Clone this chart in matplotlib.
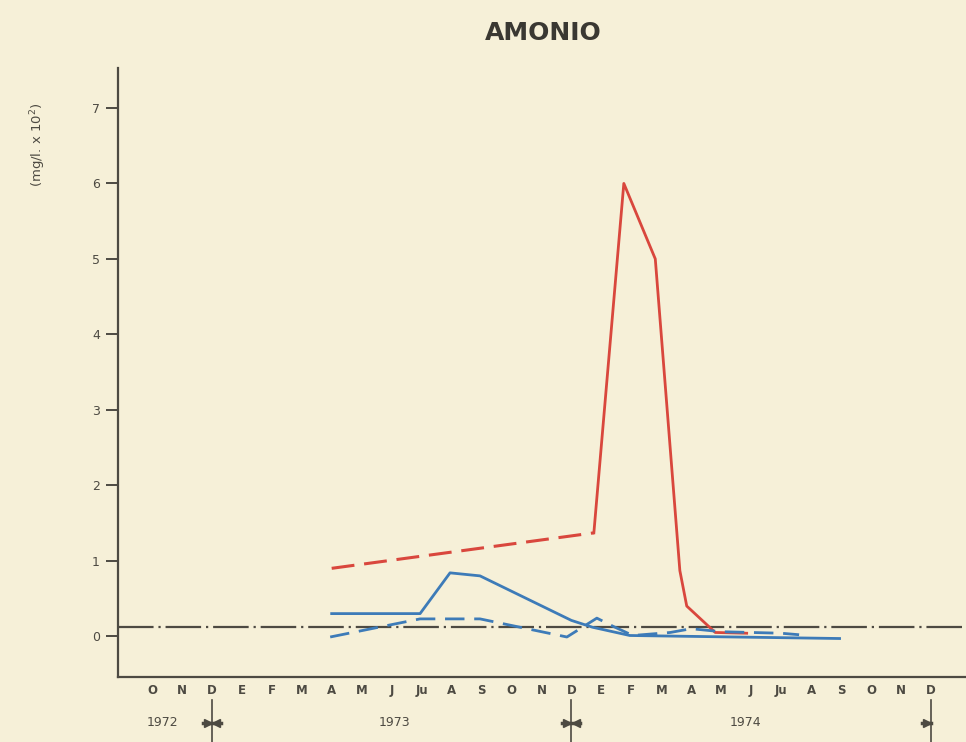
import numpy as np
import matplotlib.pyplot as plt
from matplotlib.transforms import blended_transform_factory

# month labels, Oct 1972 .. Dec 1974 (index 0 = O 1972)
months = ["O", "N", "D", "E", "F", "M", "A", "M", "J", "Ju", "A", "S",
          "O", "N", "D", "E", "F", "M", "A", "M", "J", "Ju", "A", "S",
          "O", "N", "D"]
years = ["1972", "1973", "1974"]
year_pos = [0.35, 8.1, 19.8]
year_breaks = [2, 14]
year_end = 26

# red series (dashed part, then solid)
red_dash_x = [6.0, 14.75]
red_dash_y = [0.90, 1.37]
red_x = [14.75, 15.75, 16.8, 17.62, 17.85, 18.8, 19.85]
red_y = [1.37, 6.0, 5.0, 0.87, 0.40, 0.05, 0.04]

# blue solid
blue_x = [6.0, 8.95, 9.95, 10.95, 14.0, 14.7, 15.95, 22.95]
blue_y = [0.30, 0.30, 0.84, 0.80, 0.21, 0.12, 0.01, -0.03]

# blue dashed
blued_x = [5.95, 8.95, 10.95, 13.85, 14.85, 15.4, 16.05, 17.3, 18.0, 19.0, 21.0, 21.6]
blued_y = [-0.01, 0.23, 0.23, -0.01, 0.24, 0.13, 0.01, 0.05, 0.10, 0.06, 0.04, 0.02]

# reference level
ref_level = 0.12

bg = "#f6f0d8"
grey = "#4d4a42"
red = "#d9473d"
blue = "#3d7bb8"

fig = plt.figure(figsize=(9.66, 7.42), dpi=100, facecolor=bg)
ax = fig.add_axes([0.1222, 0.0876, 0.8778, 0.8208], facecolor=bg)

ax.axhline(ref_level, color=grey, lw=1.6, dashes=(16, 2.2, 1, 2.2))

l, = ax.plot(red_dash_x, red_dash_y, color=red, lw=2.2)
l.set_dashes((7.5, 3.2))
ax.plot(red_x, red_y, color=red, lw=2.0)
ax.plot(blue_x, blue_y, color=blue, lw=2.0)
l, = ax.plot(blued_x, blued_y, color=blue, lw=2.0)
l.set_dashes((7, 3.5))

ax.set_xlim(-1.13, 27.17)
ax.set_ylim(-0.54, 7.53)

for s in ["top", "right"]:
    ax.spines[s].set_visible(False)
for s in ["left", "bottom"]:
    ax.spines[s].set_color(grey)
    ax.spines[s].set_linewidth(1.6)

ax.set_yticks(range(8))
ax.tick_params(axis="y", direction="out", length=9, width=1.4, color=grey,
               labelcolor=grey, labelsize=9, pad=4)
ax.set_xticks(range(len(months)))
ax.set_xticklabels(months, fontsize=8.5, fontweight="bold", color=grey)
ax.tick_params(axis="x", length=0, pad=5)

trans = blended_transform_factory(ax.transData, ax.transAxes)
for name, xp in zip(years, year_pos):
    ax.text(xp, -0.075, name, transform=trans, ha="center", va="center",
            fontsize=9, color=grey)
for xb in year_breaks:
    ax.plot([xb, xb], [-0.038, -0.12], transform=trans, color=grey,
            lw=1.2, clip_on=False)
    ax.plot([xb - 0.3, xb + 0.3], [-0.075, -0.075], transform=trans,
            color=grey, lw=2.5, clip_on=False)
    ax.plot([xb - 0.14], [-0.075], transform=trans, marker=">", ms=6,
            color=grey, clip_on=False)
    ax.plot([xb + 0.14], [-0.075], transform=trans, marker="<", ms=6,
            color=grey, clip_on=False)
ax.plot([year_end, year_end], [-0.038, -0.12], transform=trans, color=grey,
        lw=1.2, clip_on=False)
ax.plot([year_end - 0.3, year_end], [-0.075, -0.075], transform=trans,
        color=grey, lw=2.5, clip_on=False)
ax.plot([year_end - 0.14], [-0.075], transform=trans, marker=">", ms=6,
        color=grey, clip_on=False)

fig.text(0.562, 0.955, "AMONIO", ha="center", va="center", fontsize=18,
         fontweight="semibold", color="#3a3832")
fig.text(0.04, 0.805, "(mg/l. x 10$^2$)", rotation=90, ha="center",
         va="center", fontsize=9.5, color=grey)

fig.savefig("out.png", dpi=100, facecolor=bg)
